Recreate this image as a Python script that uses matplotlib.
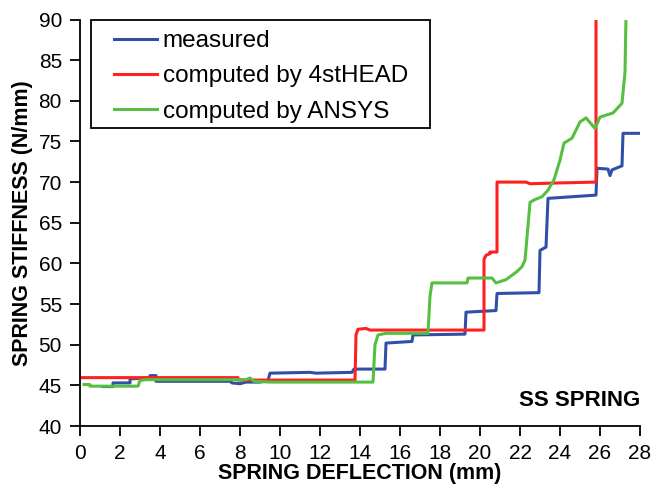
import matplotlib.pyplot as plt
from matplotlib.patches import Rectangle

# Spring stiffness vs deflection (polyline vertices)
measured_x = [1.15, 1.65, 1.65, 2.5, 2.5, 3.5, 3.5, 3.8, 3.8, 7.5, 7.6, 8.0, 8.3, 9.0, 9.4, 9.5,
              11.5, 11.8, 13.6, 13.7, 15.25, 15.3, 16.6, 16.65, 19.25, 19.3, 20.8, 20.85, 22.95,
              23.0, 23.3, 23.4, 25.8, 25.85, 26.4, 26.5, 26.6, 26.8, 27.1, 27.15, 28.0]
measured_y = [44.85, 44.85, 45.3, 45.3, 45.8, 45.9, 46.2, 46.2, 45.5, 45.5, 45.3, 45.2, 45.4, 45.4, 45.6, 46.5,
              46.6, 46.5, 46.6, 47.0, 47.0, 50.2, 50.4, 51.2, 51.3, 54.0, 54.2, 56.3, 56.4,
              61.6, 62.0, 68.0, 68.4, 71.7, 71.6, 70.8, 71.5, 71.7, 72.0, 76.0, 76.0]

head_x = [0.0, 7.9, 7.9, 13.75, 13.8, 13.9, 14.3, 14.5, 20.2, 20.2, 20.3, 20.5, 20.5, 20.85, 20.85,
          22.3, 22.5, 24.0, 25.8, 25.8]
head_y = [45.95, 45.95, 45.65, 45.65, 51.2, 51.9, 52.0, 51.8, 51.8, 60.5, 61.0, 61.2, 61.4, 61.4, 70.0,
          70.0, 69.8, 69.9, 70.0, 91.0]

ansys_x = [0.2, 0.5, 0.5, 2.9, 3.0, 3.3, 8.3, 8.5, 8.7, 9.5, 14.65, 14.75, 14.9, 15.3, 17.4, 17.5,
           17.6, 19.35, 19.4, 20.6, 20.8, 21.3, 21.85, 22.1, 22.25, 22.35, 22.5, 22.7, 23.1, 23.4,
           23.7, 24.0, 24.2, 24.6, 25.0, 25.3, 25.75, 26.0, 26.65, 27.1, 27.15, 27.25, 27.3]
ansys_y = [45.1, 45.1, 44.9, 44.9, 45.6, 45.7, 45.7, 45.9, 45.5, 45.4, 45.4, 50.0, 51.2, 51.4, 51.4, 56.0,
           57.6, 57.6, 58.2, 58.2, 57.6, 58.0, 59.0, 59.6, 60.4, 63.2, 67.5, 67.8, 68.2, 69.0,
           70.3, 72.7, 74.8, 75.4, 77.4, 77.9, 76.6, 78.0, 78.5, 79.7, 81.0, 83.5, 90.5]

x_ticks = list(range(0, 29, 2))
y_ticks = list(range(40, 91, 5))

plt.rcParams['font.family'] = ['Liberation Sans', 'DejaVu Sans']

fig = plt.figure(figsize=(6.54, 4.97), dpi=100)
ax = fig.add_axes([80 / 654, (497 - 426) / 497, 560 / 654, 406.5 / 497])

ax.plot(measured_x, measured_y, color='#3050a8', lw=2.2, label='measured')
ax.plot(head_x, head_y, color='#ff2020', lw=2.2, label='computed by 4stHEAD')
ax.plot(ansys_x, ansys_y, color='#55c040', lw=2.2, label='computed by ANSYS')

ax.set_xlim(0, 28)
ax.set_ylim(40, 90)
ax.set_xticks(x_ticks)
ax.set_yticks(y_ticks)
ax.tick_params(direction='out', length=7, width=1.3, labelsize=15, pad=6)

# only left and bottom axis lines
for side in ['top', 'right']:
    ax.spines[side].set_visible(False)
for side in ['left', 'bottom']:
    ax.spines[side].set_linewidth(1.3)

ax.set_xlabel('SPRING DEFLECTION (mm)', fontsize=15.5, fontweight='bold', labelpad=0)
ax.set_ylabel('SPRING STIFFNESS (N/mm)', fontsize=15.5, fontweight='bold', labelpad=4)

ax.text(28, 41.8, 'SS SPRING', ha='right', va='bottom', fontsize=16, fontweight='bold')

# legend entries without frame, the box is drawn separately (wider padding left/right)
leg = ax.legend(loc='upper left', bbox_to_anchor=(34 / 560, (426 - 30) / 406.5), fontsize=17.5,
                frameon=False, handlelength=1.75, handletextpad=0.25,
                labelspacing=0.55, borderpad=0, borderaxespad=0)
ax.add_patch(Rectangle((11 / 560, (426 - 128) / 406.5), 339 / 560, 108 / 406.5,
                       transform=ax.transAxes, fill=False, edgecolor='black', lw=1.3,
                       clip_on=False, zorder=5))

fig.savefig('out.png', dpi=100)
